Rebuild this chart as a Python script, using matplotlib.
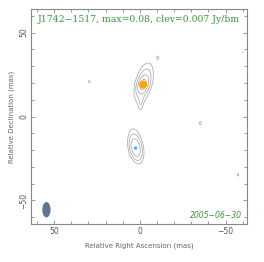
import numpy as np
import matplotlib
matplotlib.use("Agg")
import matplotlib.pyplot as plt
from matplotlib.patches import Ellipse

source = "J1742-1517"
peak_flux = 0.08
clev = 0.007
epoch = "2005-06-30"

# Gaussian model components: x (mas), y (mas), amplitude (Jy/bm), sigma major, sigma minor, angle (deg)
comp_x = [-1.8, -2.3, -0.6, 2.5, 2.3, 29.5, -35.3, -57.3, -60.2, -10.5, 6.8]
comp_y = [19.0, 20.0, 8.0, -18.8, -17.0, 20.8, -4.0, -34.7, 38.0, 35.0, -24.0]
comp_amp = [0.056, 0.026, 0.009, 0.04, 0.015, 0.0085, 0.0085, 0.0082, 0.0075, 0.0082, 0.004]
comp_smaj = [3.0, 7.5, 3.5, 4.0, 7.5, 1.0, 1.6, 1.4, 0.5, 1.3, 1.5]
comp_smin = [1.6, 3.0, 1.0, 2.0, 2.7, 0.7, 0.8, 0.7, 0.4, 0.8, 0.8]
comp_pa = [-18, -14, -5, 12, 10, 0, 0, 0, 0, 0, 0]

levels_mult = [1, 2, 4, 8]

# model-fit component markers
dot_x = [-1.8, 2.5]
dot_y = [19.0, -18.8]
dot_size = [4.0, 1.2]
dot_color = ["#ffa500", "#4fb3e6"]

beam_x, beam_y, beam_w, beam_h = 54.5, -55.5, 4.0, 8.3

xlim = (63.5, -62.5)
ylim = (-64.0, 64.0)

fig = plt.figure(figsize=(2.64, 2.62), dpi=100)
ax = fig.add_axes([31/264, 38/262, 216/264, 215/262])

xx, yy = np.meshgrid(np.linspace(-70, 70, 701), np.linspace(-70, 70, 701))
img = np.zeros_like(xx)
for x0, y0, a, sM, sm, pa in zip(comp_x, comp_y, comp_amp, comp_smaj, comp_smin, comp_pa):
    t = np.deg2rad(pa)
    dx, dy = xx - x0, yy - y0
    u = dx * np.cos(t) - dy * np.sin(t)
    v = dx * np.sin(t) + dy * np.cos(t)
    img += a * np.exp(-0.5 * ((u / sm) ** 2 + (v / sM) ** 2))

levels = [clev * m for m in levels_mult]
ax.contour(xx, yy, img, levels=levels, colors="#a0a0a0", linewidths=0.5)

for x, y, s, c in zip(dot_x, dot_y, dot_size, dot_color):
    ax.add_patch(Ellipse((x, y), s, s * 1.0, color=c, zorder=5))

ax.add_patch(Ellipse((beam_x, beam_y), beam_w, beam_h, color="#5f7690", zorder=5))

ax.set_xlim(*xlim)
ax.set_ylim(*ylim)
ax.set_xticks([50, 0, -50])
ax.set_yticks([-50, 0, 50])
ax.set_xticks(np.arange(-60, 61, 10), minor=True)
ax.set_yticks(np.arange(-60, 61, 10), minor=True)
ax.tick_params(which="both", direction="in", top=True, right=True, colors="#888888",
               labelcolor="#555555", labelsize=5.5, pad=2)
ax.tick_params(which="major", length=3, width=0.6)
ax.tick_params(which="minor", length=2, width=0.6)
for lab in ax.get_yticklabels():
    lab.set_rotation(90)
    lab.set_va("center")
for sp in ax.spines.values():
    sp.set_color("#888888")
    sp.set_linewidth(0.8)

ax.set_xlabel("Relative Right Ascension (mas)", fontsize=5.0, color="#666666", labelpad=5)
ax.set_ylabel("Relative Declination (mas)", fontsize=5.0, color="#666666", labelpad=3)

ax.text(0.03, 0.95, f"{source.replace('-', '\u2212')}, max={peak_flux:g}, clev={clev:g} Jy/bm",
        transform=ax.transAxes, fontsize=6.7, color="#3a963a", family="DejaVu Serif",
        ha="left", va="center")
ax.text(0.975, 0.04, epoch.replace("-", "\u2212"), transform=ax.transAxes, fontsize=5.6,
        color="#3a963a", style="italic", ha="right", va="center")

fig.savefig("out.png", dpi=100)
